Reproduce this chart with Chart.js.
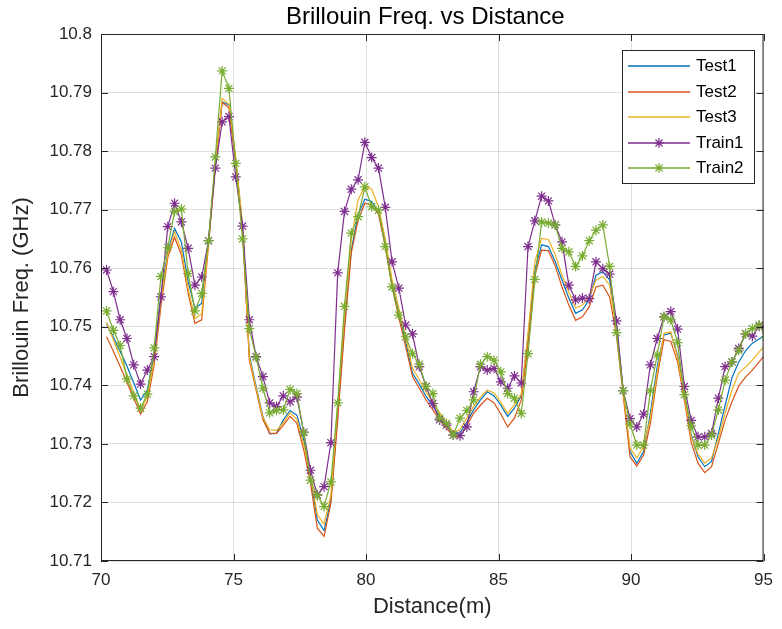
<!DOCTYPE html>
<html>
<head>
<meta charset="utf-8">
<script src="https://cdn.jsdelivr.net/npm/chart.js@4.4.1/dist/chart.umd.min.js"></script>
<style>
  html, body { margin: 0; padding: 0; background: #fff; }
  #wrap { width: 782px; height: 629px; }
</style>
</head>
<body>
<div id="wrap"><canvas id="chart" width="782" height="629"></canvas></div>
<script>
// sample positions (m)
const distance = [
  70.210, 70.467, 70.723, 70.980, 71.236, 71.493, 71.749, 72.006, 72.262, 72.519,
  72.775, 73.032, 73.288, 73.545, 73.801, 74.058, 74.314, 74.571, 74.827, 75.084,
  75.340, 75.597, 75.853, 76.110, 76.366, 76.623, 76.879, 77.136, 77.392, 77.649,
  77.905, 78.162, 78.418, 78.675, 78.931, 79.188, 79.444, 79.701, 79.957, 80.214,
  80.470, 80.727, 80.983, 81.240, 81.496, 81.753, 82.009, 82.266, 82.522, 82.779,
  83.035, 83.292, 83.548, 83.805, 84.061, 84.318, 84.574, 84.831, 85.087, 85.344,
  85.600, 85.857, 86.113, 86.370, 86.626, 86.883, 87.139, 87.396, 87.652, 87.909,
  88.165, 88.422, 88.678, 88.935, 89.191, 89.448, 89.704, 89.961, 90.217, 90.474,
  90.730, 90.987, 91.243, 91.500, 91.756, 92.013, 92.269, 92.526, 92.782, 93.039,
  93.295, 93.552, 93.808, 94.065, 94.321, 94.578, 94.834, 95.091
];

const test1 = [
  10.7505, 10.7482, 10.7458, 10.7433, 10.7404, 10.7375, 10.7392, 10.7452, 10.7555, 10.7628,
  10.7668, 10.7645, 10.7577, 10.7532, 10.7540, 10.7650, 10.7775, 10.7884, 10.7879, 10.7785,
  10.7671, 10.7452, 10.7398, 10.7347, 10.7317, 10.7318, 10.7341, 10.7357, 10.7349, 10.7307,
  10.7244, 10.7170, 10.7152, 10.7204, 10.7349, 10.7503, 10.7631, 10.7691, 10.7718, 10.7714,
  10.7697, 10.7645, 10.7574, 10.7523, 10.7475, 10.7421, 10.7402, 10.7381, 10.7365, 10.7346,
  10.7332, 10.7317, 10.7319, 10.7337, 10.7358, 10.7375, 10.7389, 10.7382, 10.7366, 10.7347,
  10.7361, 10.7382, 10.7483, 10.7597, 10.7640, 10.7637, 10.7611, 10.7580, 10.7549, 10.7523,
  10.7529, 10.7546, 10.7588, 10.7594, 10.7580, 10.7503, 10.7392, 10.7287, 10.7267, 10.7287,
  10.7352, 10.7432, 10.7486, 10.7489, 10.7452, 10.7384, 10.7316, 10.7278, 10.7261, 10.7270,
  10.7318, 10.7366, 10.7413, 10.7440, 10.7459, 10.7472, 10.7479, 10.7486
];

const test2 = [
  10.7483, 10.7458, 10.7432, 10.7405, 10.7378, 10.7351, 10.7372, 10.7435, 10.7535, 10.7618,
  10.7653, 10.7623, 10.7557, 10.7506, 10.7512, 10.7640, 10.7772, 10.7883, 10.7874, 10.7780,
  10.7665, 10.7443, 10.7392, 10.7341, 10.7318, 10.7318, 10.7332, 10.7347, 10.7335, 10.7290,
  10.7233, 10.7156, 10.7142, 10.7199, 10.7341, 10.7495, 10.7626, 10.7682, 10.7711, 10.7708,
  10.7693, 10.7637, 10.7568, 10.7515, 10.7466, 10.7415, 10.7395, 10.7375, 10.7358, 10.7341,
  10.7327, 10.7313, 10.7313, 10.7332, 10.7352, 10.7366, 10.7378, 10.7370, 10.7351, 10.7329,
  10.7344, 10.7375, 10.7469, 10.7587, 10.7631, 10.7630, 10.7604, 10.7568, 10.7537, 10.7511,
  10.7517, 10.7534, 10.7568, 10.7571, 10.7551, 10.7486, 10.7383, 10.7278, 10.7262, 10.7281,
  10.7335, 10.7415, 10.7478, 10.7475, 10.7440, 10.7375, 10.7303, 10.7267, 10.7251, 10.7261,
  10.7301, 10.7341, 10.7372, 10.7399, 10.7414, 10.7426, 10.7440, 10.7454
];

const test3 = [
  10.7508, 10.7478, 10.7448, 10.7418, 10.7388, 10.7358, 10.7380, 10.7443, 10.7545, 10.7624,
  10.7662, 10.7631, 10.7565, 10.7514, 10.7522, 10.7645, 10.7778, 10.7890, 10.7880, 10.7790,
  10.7675, 10.7448, 10.7395, 10.7345, 10.7324, 10.7323, 10.7336, 10.7353, 10.7342, 10.7299,
  10.7247, 10.7179, 10.7163, 10.7213, 10.7366, 10.7520, 10.7648, 10.7717, 10.7739, 10.7735,
  10.7705, 10.7650, 10.7580, 10.7532, 10.7483, 10.7429, 10.7410, 10.7389, 10.7371, 10.7353,
  10.7337, 10.7320, 10.7324, 10.7344, 10.7364, 10.7380, 10.7392, 10.7387, 10.7371, 10.7352,
  10.7367, 10.7385, 10.7489, 10.7611, 10.7651, 10.7649, 10.7623, 10.7588, 10.7559, 10.7532,
  10.7537, 10.7551, 10.7580, 10.7586, 10.7571, 10.7494, 10.7389, 10.7293, 10.7276, 10.7296,
  10.7344, 10.7423, 10.7489, 10.7491, 10.7448, 10.7380, 10.7312, 10.7283, 10.7267, 10.7276,
  10.7310, 10.7353, 10.7392, 10.7421, 10.7431, 10.7443, 10.7457, 10.7469
];

const train1 = [
  10.7597, 10.7560, 10.7512, 10.7480, 10.7435, 10.7402, 10.7426, 10.7449, 10.7551, 10.7671,
  10.7711, 10.7679, 10.7634, 10.7571, 10.7585, 10.7647, 10.7771, 10.7850, 10.7859, 10.7756,
  10.7672, 10.7512, 10.7449, 10.7415, 10.7370, 10.7364, 10.7382, 10.7372, 10.7380, 10.7320,
  10.7255, 10.7213, 10.7227, 10.7302, 10.7592, 10.7697, 10.7735, 10.7751, 10.7815, 10.7789,
  10.7771, 10.7704, 10.7611, 10.7566, 10.7503, 10.7488, 10.7432, 10.7398, 10.7369, 10.7341,
  10.7332, 10.7315, 10.7314, 10.7329, 10.7389, 10.7432, 10.7426, 10.7429, 10.7406, 10.7395,
  10.7416, 10.7404, 10.7637, 10.7681, 10.7723, 10.7715, 10.7674, 10.7645, 10.7571, 10.7546,
  10.7549, 10.7548, 10.7611, 10.7599, 10.7590, 10.7510, 10.7391, 10.7343, 10.7329, 10.7351,
  10.7435, 10.7480, 10.7517, 10.7526, 10.7496, 10.7398, 10.7340, 10.7312, 10.7312, 10.7318,
  10.7378, 10.7432, 10.7440, 10.7463, 10.7488, 10.7484, 10.7501, 10.7497
];

const train2 = [
  10.7527, 10.7494, 10.7468, 10.7411, 10.7382, 10.7361, 10.7385, 10.7464, 10.7586, 10.7635,
  10.7697, 10.7701, 10.7591, 10.7527, 10.7557, 10.7647, 10.7790, 10.7937, 10.7907, 10.7779,
  10.7650, 10.7497, 10.7448, 10.7395, 10.7353, 10.7357, 10.7358, 10.7393, 10.7386, 10.7319,
  10.7238, 10.7212, 10.7193, 10.7235, 10.7370, 10.7535, 10.7660, 10.7688, 10.7739, 10.7705,
  10.7699, 10.7637, 10.7568, 10.7520, 10.7483, 10.7454, 10.7436, 10.7398, 10.7386, 10.7344,
  10.7335, 10.7315, 10.7344, 10.7357, 10.7375, 10.7436, 10.7449, 10.7443, 10.7423, 10.7386,
  10.7378, 10.7352, 10.7454, 10.7581, 10.7679, 10.7677, 10.7674, 10.7634, 10.7628, 10.7603,
  10.7621, 10.7647, 10.7665, 10.7674, 10.7603, 10.7490, 10.7391, 10.7334, 10.7298, 10.7298,
  10.7391, 10.7452, 10.7517, 10.7512, 10.7473, 10.7384, 10.7331, 10.7298, 10.7298, 10.7315,
  10.7358, 10.7409, 10.7440, 10.7460, 10.7488, 10.7497, 10.7503, 10.7483
];

const xTicks = [70, 75, 80, 85, 90, 95];
const xTickLabels = ['70', '75', '80', '85', '90', '95'];
const yTicks = [10.71, 10.72, 10.73, 10.74, 10.75, 10.76, 10.77, 10.78, 10.79, 10.8];
const yTickLabels = ['10.71', '10.72', '10.73', '10.74', '10.75', '10.76', '10.77', '10.78', '10.79', '10.8'];

const FONT = "'Liberation Sans', Arial, Helvetica, sans-serif";
const AXIS_COLOR = '#262626';
const LINE_W = 1.2;

function series(values) {
    return distance.map((d, i) => ({ x: d, y: values[i] }));
}

function lineSet(label, values, color, order) {
    return {
        label: label,
        data: series(values),
        borderColor: color,
        backgroundColor: color,
        borderWidth: LINE_W,
        pointRadius: 0,
        fill: false,
        order: order
    };
}

function starSet(label, values, color, order) {
    return {
        label: label,
        data: series(values),
        borderColor: color,
        backgroundColor: color,
        borderWidth: LINE_W,
        pointStyle: 'star',
        pointRadius: 5,
        pointBorderWidth: LINE_W,
        pointBorderColor: color,
        fill: false,
        order: order
    };
}

// Title over the plot area
const plotTitle = {
    id: 'plotTitle',
    afterDraw(chart) {
        const { ctx, chartArea: a } = chart;
        ctx.save();
        ctx.fillStyle = '#000';
        ctx.font = '24px ' + FONT;
        ctx.textAlign = 'center';
        ctx.textBaseline = 'middle';
        ctx.fillText('Brillouin Freq. vs Distance', (a.left + a.right) / 2 - 7, 17);
        ctx.restore();
    }
};

// Box round the plot area with inward ticks, like the original axes
const axesBox = {
    id: 'axesBox',
    afterDatasetsDraw(chart) {
        const { ctx, chartArea: a, scales } = chart;
        const len = 7;
        ctx.save();
        ctx.strokeStyle = AXIS_COLOR;
        ctx.lineWidth = 1;
        ctx.strokeRect(a.left + 0.5, a.top + 0.5, a.right - a.left - 1, a.bottom - a.top - 1);
        ctx.beginPath();
        xTicks.forEach(v => {
            const px = Math.round(scales.x.getPixelForValue(v)) + 0.5;
            ctx.moveTo(px, a.bottom); ctx.lineTo(px, a.bottom - len);
            ctx.moveTo(px, a.top); ctx.lineTo(px, a.top + len);
        });
        yTicks.forEach(v => {
            const py = Math.round(scales.y.getPixelForValue(v)) + 0.5;
            ctx.moveTo(a.left, py); ctx.lineTo(a.left + len, py);
            ctx.moveTo(a.right, py); ctx.lineTo(a.right - len, py);
        });
        ctx.stroke();
        ctx.restore();
    }
};

// Legend box in the upper right corner of the plot
const boxLegend = {
    id: 'boxLegend',
    afterDraw(chart) {
        const ctx = chart.ctx;
        const x0 = 622, y0 = 50, w = 132, h = 133;
        ctx.save();
        ctx.fillStyle = '#fff';
        ctx.fillRect(x0, y0, w, h);
        ctx.strokeStyle = AXIS_COLOR;
        ctx.lineWidth = 1;
        ctx.strokeRect(x0 + 0.5, y0 + 0.5, w, h);
        ctx.font = '17px ' + FONT;
        ctx.textBaseline = 'middle';
        ctx.textAlign = 'left';
        const ordered = ['Test1', 'Test2', 'Test3', 'Train1', 'Train2'];
        ordered.forEach((name, i) => {
            const ds = chart.data.datasets.find(d => d.label === name);
            const y = Math.round(66 + i * 25.5);
            ctx.strokeStyle = ds.borderColor;
            ctx.lineWidth = 1.5;
            ctx.beginPath();
            ctx.moveTo(628, y);
            ctx.lineTo(690, y);
            ctx.stroke();
            if (ds.pointRadius > 0) {
                ctx.lineWidth = LINE_W;
                Chart.helpers.drawPoint(ctx, { pointStyle: 'star', radius: 5, rotation: 0, borderWidth: LINE_W }, 659, y);
            }
            ctx.fillStyle = '#000';
            ctx.fillText(name, 696, y);
        });
        ctx.restore();
    }
};

const ctx = document.getElementById('chart').getContext('2d');
new Chart(ctx, {
    type: 'line',
    data: {
        datasets: [
            lineSet('Test1', test1, '#0072BD', 5),
            lineSet('Test2', test2, '#D95319', 4),
            lineSet('Test3', test3, '#EDB120', 3),
            starSet('Train1', train1, '#7E2F8E', 2),
            starSet('Train2', train2, '#77AC30', 1)
        ]
    },
    options: {
        responsive: false,
        animation: false,
        devicePixelRatio: 1,
        layout: {
            padding: { left: 0, right: 14, top: 34, bottom: 0 }
        },
        plugins: {
            legend: { display: false },
            tooltip: { enabled: false },
            title: { display: false }
        },
        scales: {
            x: {
                type: 'linear',
                min: 70,
                max: 95,
                afterBuildTicks: scale => { scale.ticks = xTicks.map(v => ({ value: v })); },
                afterFit: scale => { scale.height = 68; },
                grid: { color: 'rgba(38,38,38,0.15)', drawTicks: false },
                border: { display: false },
                ticks: {
                    padding: 9,
                    color: AXIS_COLOR,
                    font: { family: FONT, size: 17 },
                    maxRotation: 0,
                    callback: (v, i) => xTickLabels[i]
                },
                title: {
                    display: true,
                    text: 'Distance(m)',
                    color: AXIS_COLOR,
                    font: { family: FONT, size: 22 },
                    padding: { top: 0, bottom: 9 }
                }
            },
            y: {
                min: 10.71,
                max: 10.8,
                afterBuildTicks: scale => { scale.ticks = yTicks.map(v => ({ value: v })); },
                afterFit: scale => { scale.width = 101; },
                grid: { color: 'rgba(38,38,38,0.15)', drawTicks: false },
                border: { display: false },
                ticks: {
                    padding: 9,
                    color: AXIS_COLOR,
                    font: { family: FONT, size: 17 },
                    callback: (v, i) => yTickLabels[i]
                },
                title: {
                    display: true,
                    text: 'Brillouin Freq. (GHz)',
                    color: AXIS_COLOR,
                    font: { family: FONT, size: 22 },
                    padding: { top: 9, bottom: 0 }
                }
            }
        }
    },
    plugins: [axesBox, boxLegend, plotTitle]
});
</script>
</body>
</html>
